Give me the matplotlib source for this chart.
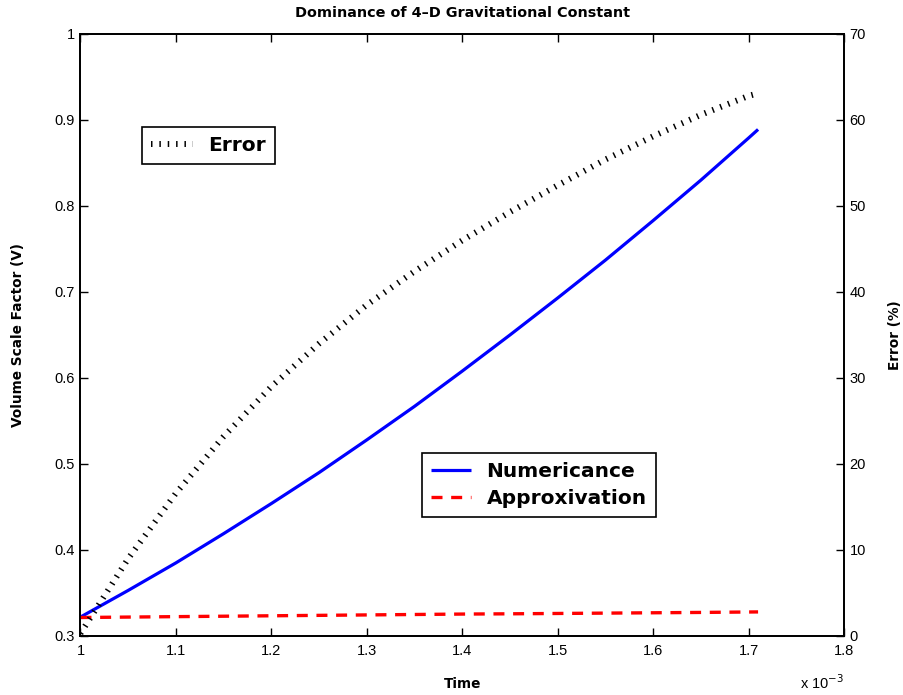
import matplotlib
matplotlib.use("Agg")
import matplotlib.pyplot as plt

plt.rcParams['font.family'] = ['Liberation Sans', 'DejaVu Sans']

# Time in units of 1e-3
time = [1.00, 1.05, 1.10, 1.15, 1.20, 1.25, 1.30, 1.35, 1.40, 1.45, 1.50,
        1.55, 1.60, 1.65, 1.70, 1.71]
numericance = [0.322, 0.353, 0.385, 0.419, 0.454, 0.490, 0.528, 0.567, 0.608,
               0.650, 0.693, 0.737, 0.783, 0.830, 0.879, 0.889]
approxivation = [0.3215, 0.3220, 0.3225, 0.3230, 0.3235, 0.3240, 0.3245, 0.3250,
                 0.3255, 0.3258, 0.3262, 0.3266, 0.3270, 0.3274, 0.3279, 0.3280]
error_pct = [0.3, 9.0, 16.6, 23.2, 29.0, 34.0, 38.5, 42.4, 46.0, 49.3, 52.4,
             55.4, 58.1, 60.6, 62.8, 63.1]

xticks = [1, 1.1, 1.2, 1.3, 1.4, 1.5, 1.6, 1.7, 1.8]
xticklabels = ['1', '1.1', '1.2', '1.3', '1.4', '1.5', '1.6', '1.7', '1.8']
yticks_left = [0.3, 0.4, 0.5, 0.6, 0.7, 0.8, 0.9, 1.0]
yticklabels_left = ['0.3', '0.4', '0.5', '0.6', '0.7', '0.8', '0.9', '1']
yticks_right = [0, 10, 20, 30, 40, 50, 60, 70]

BOLD = ['DejaVu Sans']

fig = plt.figure(figsize=(9.04, 6.95), dpi=100)
ax = fig.add_axes([0.089, 0.0849, 0.8446, 0.8662])
ax2 = ax.twinx()

l1, = ax.plot(time, numericance, color='#0000ff', lw=2.3, solid_capstyle='butt',
              label='Numericance', zorder=3)
l2, = ax.plot(time, approxivation, color='#ff0000', lw=2.4, dashes=(3.3, 2.6),
              dash_capstyle='butt', label='Approxivation', zorder=3)
l3, = ax2.plot(time, error_pct, color='black', lw=4.3, dashes=(0.25, 1.15),
               dash_capstyle='butt', label='Error')

ax.set_xlim(1.0, 1.8)
ax.set_ylim(0.3, 1.0)
ax2.set_ylim(0, 70)
ax.set_xticks(xticks)
ax.set_xticklabels(xticklabels)
ax.set_yticks(yticks_left)
ax.set_yticklabels(yticklabels_left)
ax2.set_yticks(yticks_right)

for a in (ax, ax2):
    for s in a.spines.values():
        s.set_linewidth(1.3)
        s.set_color('black')
ax.tick_params(axis='both', direction='in', length=6, width=1.0, labelsize=10.5,
               top=True, right=False, pad=4)
ax.tick_params(axis='x', pad=6)
ax2.tick_params(axis='y', direction='in', length=6, width=1.0, labelsize=10.5, pad=4)

ax.set_xlabel('Time', fontsize=9.8, fontweight='bold', family=BOLD)
ax.xaxis.set_label_coords(0.5, -0.068)
ax.set_ylabel('Volume Scale Factor (V)', fontsize=9.8, fontweight='bold', family=BOLD)
ax.yaxis.set_label_coords(-0.072, 0.5)
ax2.set_ylabel('Error (%)', fontsize=9.8, fontweight='bold', family=BOLD)
ax2.yaxis.set_label_coords(1.058, 0.5)

ax.text(1.0, -0.062, 'x 10$^{-3}$', transform=ax.transAxes, ha='right', va='top',
        fontsize=10.5)

ax.set_title('Dominance of 4\u2013D Gravitational Constant', fontsize=10.4,
             fontweight='bold', family=BOLD, pad=12)

leg_kw = dict(frameon=True, fancybox=False, shadow=False, borderaxespad=0,
              prop={'weight': 'bold', 'size': 14.5, 'family': BOLD},
              handletextpad=0.75, borderpad=0.45, labelspacing=0.4, framealpha=1)
leg1 = ax2.legend(handles=[l3], loc='upper left',
                  bbox_to_anchor=(142 / 904, 1 - 127 / 695),
                  bbox_transform=fig.transFigure, handlelength=2.1, **leg_kw)
leg1.get_frame().set_edgecolor('black')
leg1.get_frame().set_linewidth(1.2)

leg2 = ax2.legend(handles=[l1, l2], loc='upper left',
                  bbox_to_anchor=(422 / 904, 1 - 453 / 695),
                  bbox_transform=fig.transFigure, handlelength=2.0, **leg_kw)
leg2.get_frame().set_edgecolor('black')
leg2.get_frame().set_linewidth(1.2)
ax2.add_artist(leg1)

fig.savefig('out.png', dpi=100)
